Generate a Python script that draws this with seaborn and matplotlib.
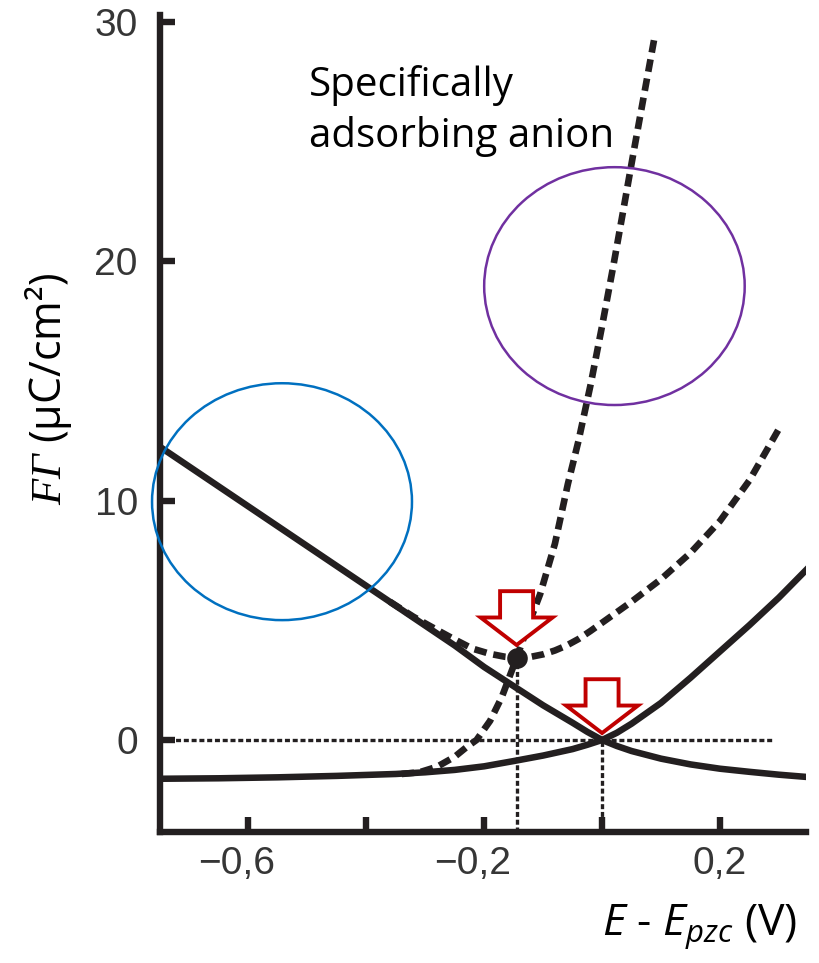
import matplotlib
matplotlib.use("Agg")
import matplotlib.pyplot as plt
from matplotlib.patches import Ellipse, FancyArrow
from matplotlib.transforms import ScaledTranslation
import pandas as pd
import seaborn as sns

# Surface excess of the cation (non-specific electrolyte)
cation_E = [-0.75, -0.70, -0.65, -0.60, -0.55, -0.50, -0.45, -0.40, -0.35, -0.30,
            -0.25, -0.20, -0.15, -0.10, -0.05, -0.025, 0.00, 0.025, 0.05, 0.10,
            0.15, 0.20, 0.25, 0.30, 0.35]
cation_q = [12.25, 11.42, 10.59, 9.76, 8.93, 8.10, 7.27, 6.44, 5.61, 4.78,
            3.95, 3.05, 2.25, 1.45, 0.72, 0.34, 0.00, -0.25, -0.46, -0.78,
            -1.02, -1.20, -1.33, -1.45, -1.55]

# Surface excess of the anion (non-specific electrolyte)
anion_E = [-0.75, -0.65, -0.55, -0.45, -0.40, -0.35, -0.30, -0.25, -0.20, -0.15,
           -0.10, -0.05, -0.025, 0.00, 0.025, 0.05, 0.10, 0.15, 0.20, 0.25,
           0.30, 0.35]
anion_q = [-1.62, -1.60, -1.56, -1.50, -1.46, -1.42, -1.35, -1.25, -1.10, -0.88,
           -0.65, -0.38, -0.20, 0.00, 0.30, 0.68, 1.55, 2.60, 3.70, 4.80,
           5.95, 7.20]

# Cation excess with a specifically adsorbing anion present
cation_sa_E = [-0.36, -0.32, -0.28, -0.25, -0.22, -0.19, -0.165, -0.145, -0.12, -0.10,
               -0.08, -0.06, -0.04, -0.02, 0.00, 0.05, 0.10, 0.15, 0.20, 0.25, 0.30]
cation_sa_q = [5.78, 5.15, 4.60, 4.20, 3.82, 3.60, 3.48, 3.43, 3.48, 3.58,
               3.74, 3.95, 4.22, 4.55, 4.90, 5.78, 6.72, 7.82, 9.15, 10.85, 13.00]

# Excess of the specifically adsorbing anion
anion_sa_E = [-0.34, -0.31, -0.28, -0.25, -0.23, -0.213, -0.19, -0.17, -0.145, -0.125,
              -0.105, -0.08, -0.058, -0.04, -0.019, 0.00, 0.019, 0.035, 0.053, 0.07, 0.09]
anion_sa_q = [-1.42, -1.35, -1.12, -0.70, -0.30, 0.00, 0.80, 1.80, 3.43, 4.80,
              6.10, 8.20, 10.70, 12.50, 14.90, 17.30, 19.80, 22.00, 24.50, 26.80, 29.50]

# Point of zero charge with / without specific adsorption
pzc_shifted = (-0.145, 3.43)
pzc = (0.0, 0.0)

x_ticks = [-0.6, -0.4, -0.2, 0.0, 0.2]
x_tick_labels = ["\u22120,6", "", "\u22120,2", "", "0,2"]
y_ticks = [0, 10, 20, 30]
y_tick_labels = ["0", "10", "20", "30"]

INK = "#231f20"
RED = "#c00000"

sns.set_theme(style="ticks")
plt.rcParams.update({
    "font.family": ["Open Sans", "DejaVu Sans"],
    "mathtext.fontset": "custom",
    "mathtext.rm": "Open Sans",
    "mathtext.it": "Open Sans:italic",
    "mathtext.cal": "Liberation Serif:italic",
    "lines.scale_dashes": False,
    "lines.solid_joinstyle": "round",
    "lines.dash_capstyle": "butt",
    "axes.linewidth": 4.6,
    "axes.edgecolor": INK,
})

fig = plt.figure(figsize=(8.2, 9.63), dpi=100)
ax = fig.add_axes([160 / 820, 1 - 832 / 963, 646 / 820, 817 / 963])
ax.set_facecolor("white")

dash = (0, (9.0, 5.0))
dot = (0, (3.6, 2.0))

def curve(E, q, **kw):
    df = pd.DataFrame({"E": E, "q": q})
    sns.lineplot(data=df, x="E", y="q", ax=ax, color=INK, errorbar=None,
                 sort=False, legend=False, **kw)

curve(cation_E, cation_q, linewidth=4.7, zorder=3)
curve(anion_E, anion_q, linewidth=4.7, zorder=3)
curve(cation_sa_E, cation_sa_q, linewidth=4.8, linestyle=dash, zorder=3)
curve(anion_sa_E, anion_sa_q, linewidth=4.8, linestyle=dash, zorder=3)

xmin, xmax = -0.75, 0.346
ymin, ymax = -3.845, 30.3

# guide lines at zero charge and at both zero-charge potentials
ax.plot([xmin, 0.29], [0, 0], color=INK, linewidth=2.4, linestyle=dot, zorder=2)
ax.plot([pzc_shifted[0]] * 2, [ymin, pzc_shifted[1]], color=INK, linewidth=2.4,
        linestyle=dot, zorder=2)
ax.plot([pzc[0]] * 2, [ymin, pzc[1]], color=INK, linewidth=2.4,
        linestyle=dot, zorder=2)

sns.scatterplot(x=[pzc_shifted[0]], y=[pzc_shifted[1]], ax=ax, s=220,
                color=INK, linewidth=0, zorder=6, legend=False)

# hollow arrows pointing at the two zero-charge points
arrow_gap = [0.54, 0.29]
for (px, py), gap in zip([pzc_shifted, pzc], arrow_gap):
    tip = py + gap
    ax.add_patch(FancyArrow(px, tip + 2.25, 0, -2.25, width=0.056,
                            head_width=0.122, head_length=1.15,
                            length_includes_head=True, facecolor="white",
                            edgecolor=RED, linewidth=2.8, zorder=7))

ax.add_patch(Ellipse((-0.543, 9.96), 0.441, 9.9, fill=False, edgecolor="#0070c0",
                     linewidth=1.8, zorder=8, clip_on=False))
ax.add_patch(Ellipse((0.021, 18.97), 0.442, 9.94, fill=False, edgecolor="#7030a0",
                     linewidth=1.8, zorder=8, clip_on=False))

ax.text(-0.498, 24.78, "Specifically\nadsorbing anion", fontsize=29,
        fontfamily="Open Sans", color="black", va="baseline", ha="left",
        linespacing=1.32)

ax.set_xlim(xmin, xmax)
ax.set_ylim(ymin, ymax)
ax.set_xticks(x_ticks, x_tick_labels)
ax.set_yticks(y_ticks, y_tick_labels)
ax.tick_params(direction="in", length=10.5, width=4.6, color=INK,
               labelsize=28, labelcolor="#363636")
ax.tick_params(axis="x", pad=10)
ax.tick_params(axis="y", pad=16)
for lbl in ax.get_xticklabels() + ax.get_yticklabels():
    lbl.set_fontfamily("Liberation Sans")
for lbl in ax.get_xticklabels():
    if lbl.get_text().startswith("\u2212"):
        lbl.set_transform(lbl.get_transform() +
                          ScaledTranslation(-12 / 100, 0, fig.dpi_scale_trans))

sns.despine(ax=ax, top=True, right=True)

ax.set_ylabel(r"$\mathcal{F\Gamma}$ (μC/cm²)", fontsize=31, color="black")
ax.yaxis.set_label_coords(-0.133, 0.543)
ax.set_xlabel(r"$E$ - $E_{pzc}$ (V)", fontsize=32, color="black", loc="right")
ax.xaxis.set_label_coords(0.986, -0.086)

fig.savefig("out.png", dpi=100, facecolor="white")
